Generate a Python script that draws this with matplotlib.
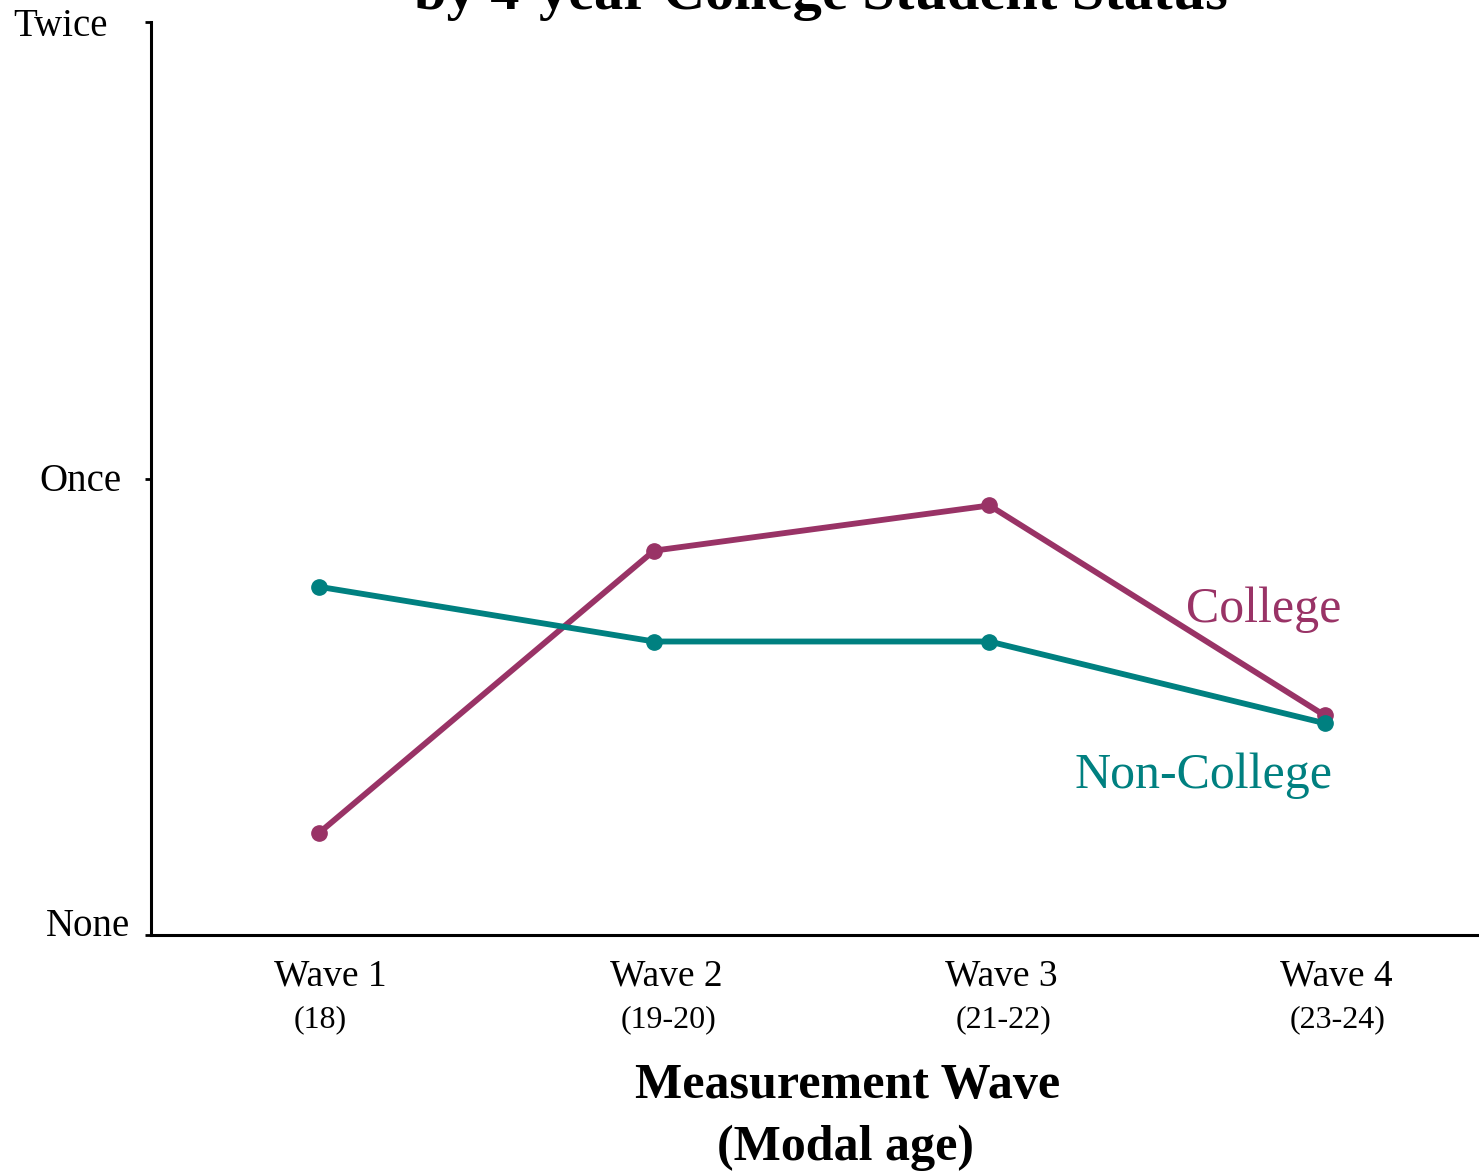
import numpy as np
import matplotlib.pyplot as plt
from matplotlib.transforms import ScaledTranslation

plt.rcParams['font.family'] = ['Liberation Serif', 'DejaVu Serif']

# mean frequency by wave
waves = [1, 2, 3, 4]
wave_names = ['Wave 1', 'Wave 2', 'Wave 3', 'Wave 4']
wave_ages = ['(18)', '(19-20)', '(21-22)', '(23-24)']
college = [0.223, 0.842, 0.941, 0.481]
non_college = [0.763, 0.643, 0.643, 0.464]
y_ticks = [0, 1, 2]
y_labels = ['None', 'Once', 'Twice']

maroon = '#993366'
teal = '#008080'

fig = plt.figure(figsize=(14.79, 11.71), dpi=100)
ax = fig.add_axes([0.1021, 0.2015, 0.8979, 0.7797])

ax.plot(waves, college, '-o', color=maroon, lw=4.2, ms=11, clip_on=False)
ax.plot(waves, non_college, '-o', color=teal, lw=4.2, ms=11, clip_on=False)

ax.set_xlim(0.5, 4.46)
ax.set_ylim(0, 2)
ax.spines['top'].set_visible(False)
ax.spines['right'].set_visible(False)
ax.spines['left'].set_linewidth(2.2)
ax.spines['bottom'].set_linewidth(2.2)

ax.set_yticks(y_ticks)
ax.set_yticklabels(y_labels, fontsize=28)
ax.tick_params(axis='y', length=4, width=2, pad=17)
# nudge individual y labels (dx, dy in pixels)
for lbl, (dx, dy) in zip(ax.get_yticklabels(), [(8, 13), (0, 2), (-14, 0)]):
    lbl.set_transform(lbl.get_transform() +
                      ScaledTranslation(dx / 100, dy / 100, fig.dpi_scale_trans))
ax.set_xticks([])

# two-line wave labels under the axis
for x, name, age, dx in zip(waves, wave_names, wave_ages, [2, 14, 14, 13]):
    ax.annotate(name, (x, 0), xycoords=('data', 'axes fraction'),
                xytext=(12, -41), textcoords='offset pixels',
                ha='center', va='center', fontsize=27)
    ax.annotate(age, (x, 0), xycoords=('data', 'axes fraction'),
                xytext=(dx, -85), textcoords='offset pixels',
                ha='center', va='center', fontsize=23)

ax.text(4.05, 0.712, 'College', color=maroon, fontsize=36,
        ha='right', va='center')
ax.text(4.024, 0.348, 'Non-College', color=teal, fontsize=36,
        ha='right', va='center')

fig.text(0.573, 1 - 1086 / 1171, 'Measurement Wave', fontsize=36,
         fontweight='bold', ha='center', va='center')
fig.text(0.572, 1 - 1148 / 1171, '(Modal age)', fontsize=36,
         fontweight='bold', ha='center', va='center')

fig.text(0.555, 1 - 9 / 1171,
         'Frequency of Heavy Episodic Drinking\nby 4-year College Student Status',
         fontsize=42, fontweight='bold', ha='center', va='baseline')

fig.savefig('out.png', dpi=100)
